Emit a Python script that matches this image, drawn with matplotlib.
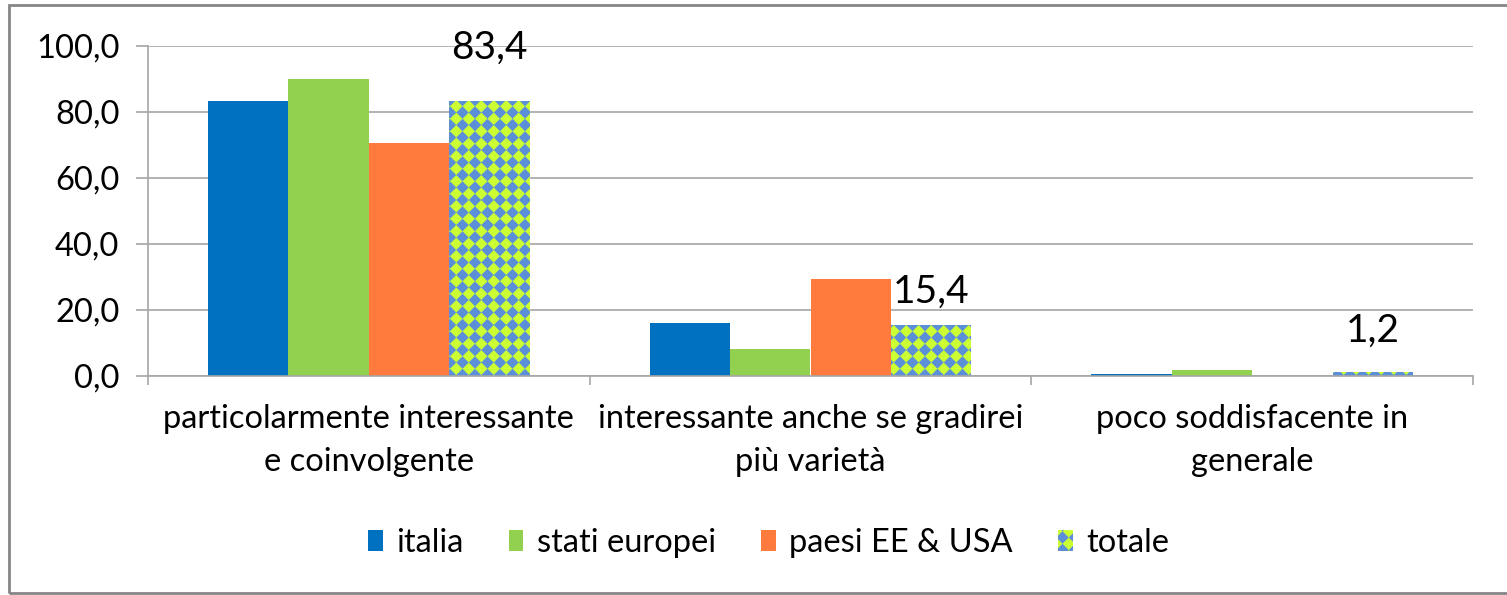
import warnings
import matplotlib
matplotlib.use("Agg")
import matplotlib.pyplot as plt
import matplotlib.hatch as mhatch
import numpy as np
from matplotlib.patches import Rectangle
from matplotlib.path import Path

warnings.filterwarnings("ignore", category=matplotlib.MatplotlibDeprecationWarning)

# Data
categories = ["particolarmente interessante\ne coinvolgente",
              "interessante anche se gradirei\npiù varietà",
              "poco soddisfacente in\ngenerale"]
series_names = ["italia", "stati europei", "paesi EE & USA", "totale"]
italia = [83.2, 16.2, 0.6]
stati_europei = [90.0, 8.2, 1.8]
paesi_ee_usa = [70.6, 29.4, 0.0]
totale = [83.4, 15.4, 1.2]
y_ticks = [0, 20, 40, 60, 80, 100]

# Styling
colors = ["#0070C0", "#92D050", "#FF7B3D", "#CCFF33"]
diamond_blue = "#5B8FD8"
grid_gray = "#A6A6A6"
font_size = 23.5
value_font_size = 28
label_offsets = [38, 24, 30]  # points above the totale bar for the value labels


class SolidDiamonds(mhatch.HatchPatternBase):
    """Excel-like 'solid diamond' pattern (checkerboard turned 45 degrees)."""

    def __init__(self, hatch, density):
        self.num = 8 if 'd' in hatch else 0
        self.num_vertices = (self.num + 1) ** 2 * 5 if self.num else 0

    def set_vertices_and_codes(self, vertices, codes):
        half = 0.5 / self.num
        diamond = np.array([[0, half], [half, 0], [0, -half], [-half, 0], [0, half]])
        centres = np.arange(self.num + 1) / self.num
        k = 0
        for cx in centres:
            for cy in centres:
                vertices[k:k + 5] = diamond + [cx, cy]
                codes[k:k + 5] = [Path.MOVETO, Path.LINETO, Path.LINETO,
                                  Path.LINETO, Path.CLOSEPOLY]
                k += 5


mhatch._hatch_types.append(SolidDiamonds)

plt.rcParams['font.family'] = ['Lato', 'DejaVu Sans']
plt.rcParams['hatch.linewidth'] = 0.0

fig = plt.figure(figsize=(15.07, 5.95), dpi=100)
ax = fig.add_axes([148 / 1507, 1 - 376 / 595, (1473 - 148) / 1507, (376 - 46) / 595])

x = np.arange(len(categories))
bar_width = 0.182
all_series = [italia, stati_europei, paesi_ee_usa, totale]
bars = []
for i, (name, values) in enumerate(zip(series_names, all_series)):
    offset = (i - 1.5) * bar_width
    if name == "totale":
        b = ax.bar(x + offset, values, bar_width, label=name, color=colors[i],
                   edgecolor=diamond_blue, linewidth=0, hatch='d')
    else:
        b = ax.bar(x + offset, values, bar_width, label=name, color=colors[i], linewidth=0)
    bars.append(b)

# Value labels on the totale bars
for rect, val, dy in zip(bars[3], totale, label_offsets):
    ax.annotate('{:.1f}'.format(val).replace('.', ','),
                xy=(rect.get_x() + rect.get_width() / 2, rect.get_height()),
                xytext=(0, dy), textcoords='offset points',
                ha='center', va='center', fontsize=value_font_size, color='black')

# Axes
ax.set_xlim(-0.5, len(categories) - 0.5)
ax.set_ylim(0, 100)
ax.set_yticks(y_ticks)
ax.set_yticklabels(['{:.1f}'.format(v).replace('.', ',') for v in y_ticks])
ax.set_xticks(x)
ax.set_xticklabels(categories, linespacing=1.55)
ax.set_xticks(np.arange(len(categories) + 1) - 0.5, minor=True)

ax.tick_params(axis='y', which='major', length=8.6, width=1.2, color=grid_gray,
               pad=12, labelsize=font_size)
ax.tick_params(axis='x', which='major', length=0, pad=20, labelsize=font_size)
ax.tick_params(axis='x', which='minor', length=6.5, width=1.2, color=grid_gray)

ax.yaxis.grid(True, color=grid_gray, linewidth=1.2)
ax.set_axisbelow(True)
for side in ['top', 'right']:
    ax.spines[side].set_visible(False)
for side in ['left', 'bottom']:
    ax.spines[side].set_color(grid_gray)
    ax.spines[side].set_linewidth(1.2)

# Legend
fig.legend(loc='center', bbox_to_anchor=(0.51, 0.087), ncol=4, frameon=False,
           fontsize=font_size, handlelength=0.45, handleheight=0.6, handletextpad=0.4,
           columnspacing=1.4)

# Outer chart frame
fig.patches.append(Rectangle((9 / 1507, 2 / 595), 1.05, 588 / 595, transform=fig.transFigure,
                             fill=False, edgecolor='#868686', linewidth=2.0, clip_on=False))

fig.savefig('out.png', dpi=100)
